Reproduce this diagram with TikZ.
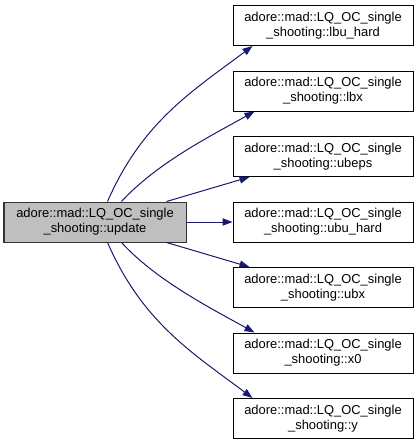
\documentclass[tikz,border=0pt]{standalone}
\usepackage{fontspec}
\setmainfont{Liberation Sans}
\usetikzlibrary{arrows.meta}
\definecolor{edgec}{RGB}{25,25,112}
\definecolor{gfill}{RGB}{191,191,191}
\begin{document}
\begin{tikzpicture}[x=0.75pt,y=-0.75pt,
  box/.style={draw=black, line width=0.75pt, fill=white, minimum width=135pt, minimum height=30pt, inner sep=0pt, align=center, font=\fontsize{9.7}{11.25}\selectfont},
  cur/.style={box, fill=gfill, draw=black!80, minimum width=136.5pt},
  edge/.style={draw=edgec, line width=0.75pt, -{Triangle[length=7.5pt,width=5.5pt]}}]
\useasboundingbox (0,0) rectangle (419,444);
\node[cur] (upd) at (95,222) {adore::mad::LQ\_OC\_single\\\_shooting::update};
\node[box] (n1) at (323,25.5) {adore::mad::LQ\_OC\_single\\\_shooting::lbu\_hard};
\node[box] (n2) at (323,91) {adore::mad::LQ\_OC\_single\\\_shooting::lbx};
\node[box] (n3) at (323,156.5) {adore::mad::LQ\_OC\_single\\\_shooting::ubeps};
\node[box] (n4) at (323,222) {adore::mad::LQ\_OC\_single\\\_shooting::ubu\_hard};
\node[box] (n5) at (323,287.5) {adore::mad::LQ\_OC\_single\\\_shooting::ubx};
\node[box] (n6) at (323,353) {adore::mad::LQ\_OC\_single\\\_shooting::x0};
\node[box] (n7) at (323,418.5) {adore::mad::LQ\_OC\_single\\\_shooting::y};
\draw[edge] ([xshift=78pt]upd.north west) .. controls +(35,-80) and +(-60,45) .. ([xshift=15pt]n1.south west);
\draw[edge] ([xshift=88.5pt]upd.north west) .. controls +(35,-38) and +(-45,25) .. ([xshift=16.5pt]n2.south west);
\draw[edge] ([xshift=122.25pt]upd.north west) -- ([xshift=12.75pt]n3.south west);
\draw[edge] (upd.east) -- (n4.west);
\draw[edge] ([xshift=122.25pt]upd.south west) -- ([xshift=12.75pt]n5.north west);
\draw[edge] ([xshift=88.5pt]upd.south west) .. controls +(35,38) and +(-45,-25) .. ([xshift=16.5pt]n6.north west);
\draw[edge] ([xshift=78pt]upd.south west) .. controls +(35,80) and +(-60,-45) .. ([xshift=15pt]n7.north west);
\end{tikzpicture}
\end{document}
